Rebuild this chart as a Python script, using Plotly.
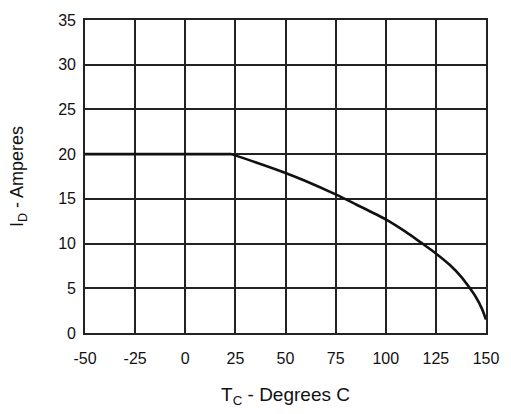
import plotly.graph_objects as go

# Data
flat_temp = [-50, 0, 23]
flat_current = [20, 20, 20]
derate_temp = [23, 35, 50, 60, 75, 85, 100, 110, 117.6, 125, 132, 138, 141, 145, 148, 150]
derate_current = [20, 19.1, 17.9, 17.0, 15.5, 14.4, 12.7, 11.3, 10.1, 8.9, 7.6, 6.2, 5.3, 4.0, 2.7, 1.5]

x_ticks = [-50, -25, 0, 25, 50, 75, 100, 125, 150]
y_ticks = [0, 5, 10, 15, 20, 25, 30, 35]

font_family = "Liberation Sans, Arial, sans-serif"
line_style = dict(color="#111111", width=2.6)

fig = go.Figure()
fig.add_trace(go.Scatter(x=flat_temp, y=flat_current, mode="lines",
                         line=dict(**line_style, shape="linear"),
                         showlegend=False, hoverinfo="skip"))
fig.add_trace(go.Scatter(x=derate_temp, y=derate_current, mode="lines",
                         line=dict(**line_style, shape="spline", smoothing=0.8),
                         showlegend=False, hoverinfo="skip"))

fig.update_layout(
    width=511, height=414,
    margin=dict(l=85, r=20, t=14, b=81),
    paper_bgcolor="white", plot_bgcolor="white",
    font=dict(family=font_family, color="#111111", size=16),
    xaxis=dict(range=[-50, 150], tickvals=x_ticks, ticktext=[str(v) for v in x_ticks],
               showgrid=True, gridcolor="#222222", gridwidth=1.6,
               zeroline=False, showline=True, linecolor="#222222", linewidth=1.6, mirror=True,
               ticks="", ticklabelstandoff=10,
               tickfont=dict(size=16, family=font_family, color="#111111"),
               title=dict(text="T<sub>C</sub> - Degrees C", font=dict(size=19), standoff=22)),
    yaxis=dict(range=[0, 35], tickvals=y_ticks, ticktext=[str(v) for v in y_ticks],
               showgrid=True, gridcolor="#222222", gridwidth=1.6,
               zeroline=False, showline=True, linecolor="#222222", linewidth=1.6, mirror=True,
               ticks="", ticklabelstandoff=4,
               tickfont=dict(size=16, family=font_family, color="#111111"),
               title=dict(text="I<sub>D</sub> - Amperes", font=dict(size=18), standoff=30)),
)

fig.write_html("out.html", config={"displayModeBar": False},
               post_script="document.body.style.margin='0';")
